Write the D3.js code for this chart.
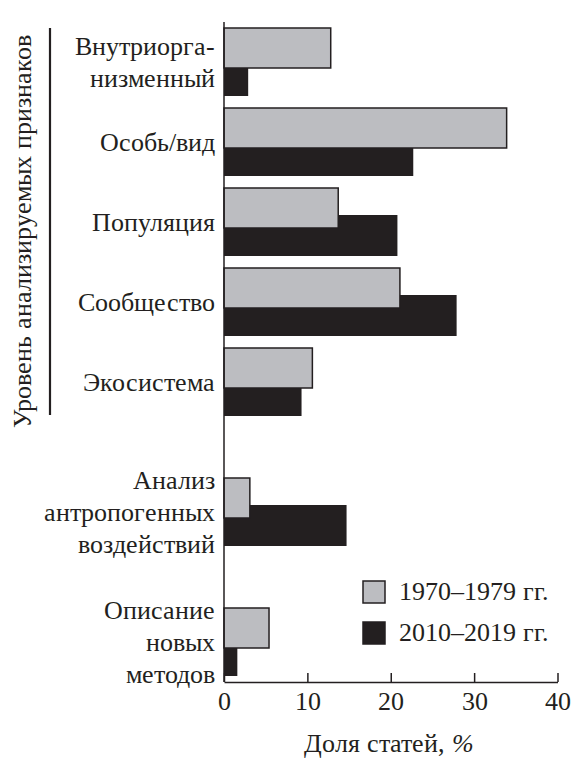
<!DOCTYPE html>
<html lang="ru">
<head>
<meta charset="utf-8">
<script src="https://cdn.jsdelivr.net/npm/d3@7"></script>
<style>
  @font-face { font-family: "RefSerif"; src: local("Liberation Serif"), local("LiberationSerif"), local("Liberation Serif Regular"); font-style: normal; }
  @font-face { font-family: "RefSerif"; src: local("Liberation Serif Italic"), local("LiberationSerif-Italic"); font-style: italic; }
  body { margin: 0; background: #fff; }
</style>
</head>
<body>
<svg width="572" height="758"></svg>
<script>
var categories = [
  ["Внутриорга-", "низменный"],
  ["Особь/вид"],
  ["Популяция"],
  ["Сообщество"],
  ["Экосистема"],
  ["Анализ", "антропогенных", "воздействий"],
  ["Описание", "новых", "методов"]
];
var v1970 = [12.8, 33.9, 13.7, 21.1, 10.6, 3.1, 5.4];
var v2010 = [2.9, 22.7, 20.8, 27.9, 9.3, 14.7, 1.6];
var seriesNames = ["1970–1979 гг.", "2010–2019 гг."];
var xTicks = [0, 10, 20, 30, 40];

var svg = d3.select("svg");
var grey = "#bcbdc1", dark = "#231f20";
var serif = "RefSerif, 'Liberation Serif', 'Times New Roman', serif";

var x = d3.scaleLinear().domain([0, 40]).range([224, 557.5]);
// slot position: extra gap before the last two groups
function slot(i) { return i + 0.625 * Math.max(0, i - 4); }
var y = d3.scaleLinear().domain([0, 1]).range([28, 108]);

// black bars (drawn first, grey overlaps)
svg.append("g").selectAll("rect")
  .data(v2010).enter().append("rect")
  .attr("x", x(0))
  .attr("y", function(d, i) { return y(slot(i)) + 27; })
  .attr("width", function(d) { return x(d) - x(0); })
  .attr("height", 41)
  .attr("fill", dark);

svg.append("g").selectAll("rect")
  .data(v1970).enter().append("rect")
  .attr("x", x(0))
  .attr("y", function(d, i) { return y(slot(i)); })
  .attr("width", function(d) { return x(d) - x(0); })
  .attr("height", 40)
  .attr("fill", grey)
  .attr("stroke", dark)
  .attr("stroke-width", 1.5);

// category labels, one text per line
categories.forEach(function(lines, i) {
  var base = y(slot(i)) + 43 - (lines.length - 1) * 16;
  svg.append("g").attr("transform", "translate(215," + base + ")")
    .selectAll("text")
    .data(lines).enter().append("text")
    .attr("x", 0)
    .attr("y", function(d, j) { return j * 32; })
    .attr("text-anchor", "end")
    .style("font-family", serif)
    .style("font-size", "26px")
    .attr("fill", dark)
    .text(function(d) { return d; });
});

// y axis line
svg.append("line")
  .attr("x1", x(0)).attr("x2", x(0))
  .attr("y1", 22).attr("y2", 682)
  .attr("stroke", dark).attr("stroke-width", 1.5);

// x axis
var xAxis = svg.append("g")
  .attr("transform", "translate(0,682)")
  .call(d3.axisBottom(x).tickValues(xTicks).tickSizeInner(-9).tickSizeOuter(0));
xAxis.attr("font-family", null).attr("font-size", null);
xAxis.select(".domain").attr("stroke", dark).attr("stroke-width", 1.5);
xAxis.selectAll(".tick line").attr("stroke", dark).attr("stroke-width", 1.5);
xAxis.selectAll(".tick text")
  .attr("y", 28).attr("dy", 0)
  .style("font-family", serif)
  .style("font-size", "26px")
  .attr("fill", dark);

// x title
var xt = svg.append("text")
  .attr("x", 389).attr("y", 752)
  .attr("text-anchor", "middle")
  .style("font-family", serif)
  .style("font-size", "26px")
  .attr("fill", dark);
xt.append("tspan").text("Доля статей, ");
xt.append("tspan").style("font-style", "italic").text("%");

// y title and bracket
svg.append("text")
  .attr("transform", "translate(31,231) rotate(-90)")
  .attr("text-anchor", "middle")
  .style("font-family", serif)
  .style("font-size", "26px")
  .attr("fill", dark)
  .text("Уровень анализируемых признаков");
svg.append("line")
  .attr("x1", 50).attr("x2", 50)
  .attr("y1", 28).attr("y2", 415)
  .attr("stroke", dark).attr("stroke-width", 2.2);

// legend
var legend = svg.append("g").selectAll("g")
  .data(seriesNames).enter().append("g")
  .attr("transform", function(d, i) { return "translate(363," + (581 + i * 41) + ")"; });
legend.append("rect")
  .attr("width", 22).attr("height", 22)
  .attr("fill", function(d, i) { return i === 0 ? grey : dark; })
  .attr("stroke", dark).attr("stroke-width", 1.5);
legend.append("text")
  .attr("x", 36).attr("y", 19)
  .style("font-family", serif)
  .style("font-size", "26px")
  .attr("fill", dark)
  .text(function(d) { return d; });
</script>
</body>
</html>
